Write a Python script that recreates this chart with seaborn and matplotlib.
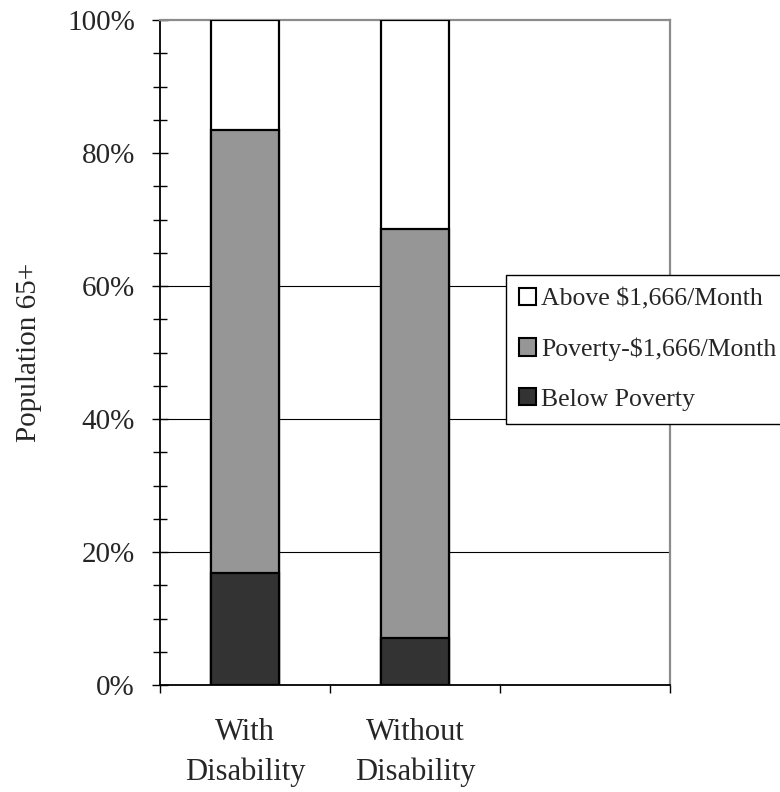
import matplotlib
matplotlib.use("Agg")
import matplotlib.pyplot as plt
from matplotlib.patches import Patch
from matplotlib.ticker import PercentFormatter, MultipleLocator, FixedLocator, NullFormatter
import numpy as np
import pandas as pd
import seaborn as sns

# Income distribution of the population 65+ (percent of each group)
groups = ["With\nDisability", "Without\nDisability"]
slots = groups + [" "]  # third category slot is left empty
tiers = ["Above $1,666/Month", "Poverty-$1,666/Month", "Below Poverty"]
below_poverty = [16.8, 7.1]
poverty_to_1666 = [66.7, 61.4]
above_1666 = [16.5, 31.5]
tier_colors = ["#ffffff", "#969696", "#333333"]

sns.set_style("white")
plt.rcParams["font.family"] = ["Liberation Serif", "DejaVu Serif"]

# cumulative tops of each stacked segment, drawn from the back layer forward
below = np.array(below_poverty)
mid = below + np.array(poverty_to_1666)
top = mid + np.array(above_1666)
layer_tops = {tiers[0]: top, tiers[1]: mid, tiers[2]: below}

fig = plt.figure(figsize=(7.8, 7.92), dpi=100)
ax = fig.add_axes([160 / 780, 107 / 792, 510 / 780, 665 / 792])

for tier, color in zip(tiers, tier_colors):
    df = pd.DataFrame({"group": groups, "share": layer_tops[tier]})
    sns.barplot(data=df, x="group", y="share", order=slots, color=color,
                saturation=1, width=0.4, edgecolor="black", linewidth=1.6,
                errorbar=None, ax=ax, zorder=3)

ax.set_xlim(-0.5, 2.5)
ax.set_ylim(0, 100)
ax.set_xlabel("")
ax.set_ylabel("Population 65+", fontsize=21, labelpad=18)

# y axis: percent labels, crossing major and minor ticks
ax.yaxis.set_major_locator(MultipleLocator(20))
ax.yaxis.set_minor_locator(MultipleLocator(5))
ax.yaxis.set_major_formatter(PercentFormatter(decimals=0))
ax.tick_params(axis="y", which="major", direction="inout", length=12, width=1,
               color="black", labelsize=21, pad=12, left=True)
ax.tick_params(axis="y", which="minor", direction="inout", length=10.5, width=1,
               color="black", left=True)

# x axis: ticks at the category boundaries, labels at the centres
ax.xaxis.set_major_locator(FixedLocator([-0.5, 0.5, 1.5, 2.5]))
ax.xaxis.set_major_formatter(NullFormatter())
ax.xaxis.set_minor_locator(FixedLocator([0, 1, 2]))
ax.set_xticklabels(slots, minor=True, linespacing=1.45)
ax.tick_params(axis="x", which="major", direction="out", length=6, width=1,
               color="black", bottom=True)
ax.tick_params(axis="x", which="minor", length=0, labelsize=22, pad=24)

# horizontal gridlines inside the frame only
ax.set_axisbelow(True)
ax.yaxis.grid(True, which="major", color="black", linewidth=0.8)
for gl in ax.get_ygridlines():
    y = gl.get_ydata()[0]
    if y <= 0 or y >= 100:
        gl.set_visible(False)

for side in ("top", "right"):
    ax.spines[side].set_color("#8c8c8c")
    ax.spines[side].set_linewidth(1.6)
for side in ("left", "bottom"):
    ax.spines[side].set_color("black")
    ax.spines[side].set_linewidth(1.3)

handles = [Patch(facecolor=c, edgecolor="black", linewidth=1.5) for c in tier_colors]
leg = fig.legend(handles, tiers, loc="upper left",
                 bbox_to_anchor=(506 / 780, 1 - 275 / 792), borderaxespad=0,
                 fontsize=18.5, frameon=True, fancybox=False, framealpha=1,
                 edgecolor="black", borderpad=0.5, labelspacing=1.05,
                 handlelength=0.66, handleheight=0.66, handletextpad=0.2)
leg.get_frame().set_linewidth(1.0)

fig.savefig("out.png", dpi=100)
